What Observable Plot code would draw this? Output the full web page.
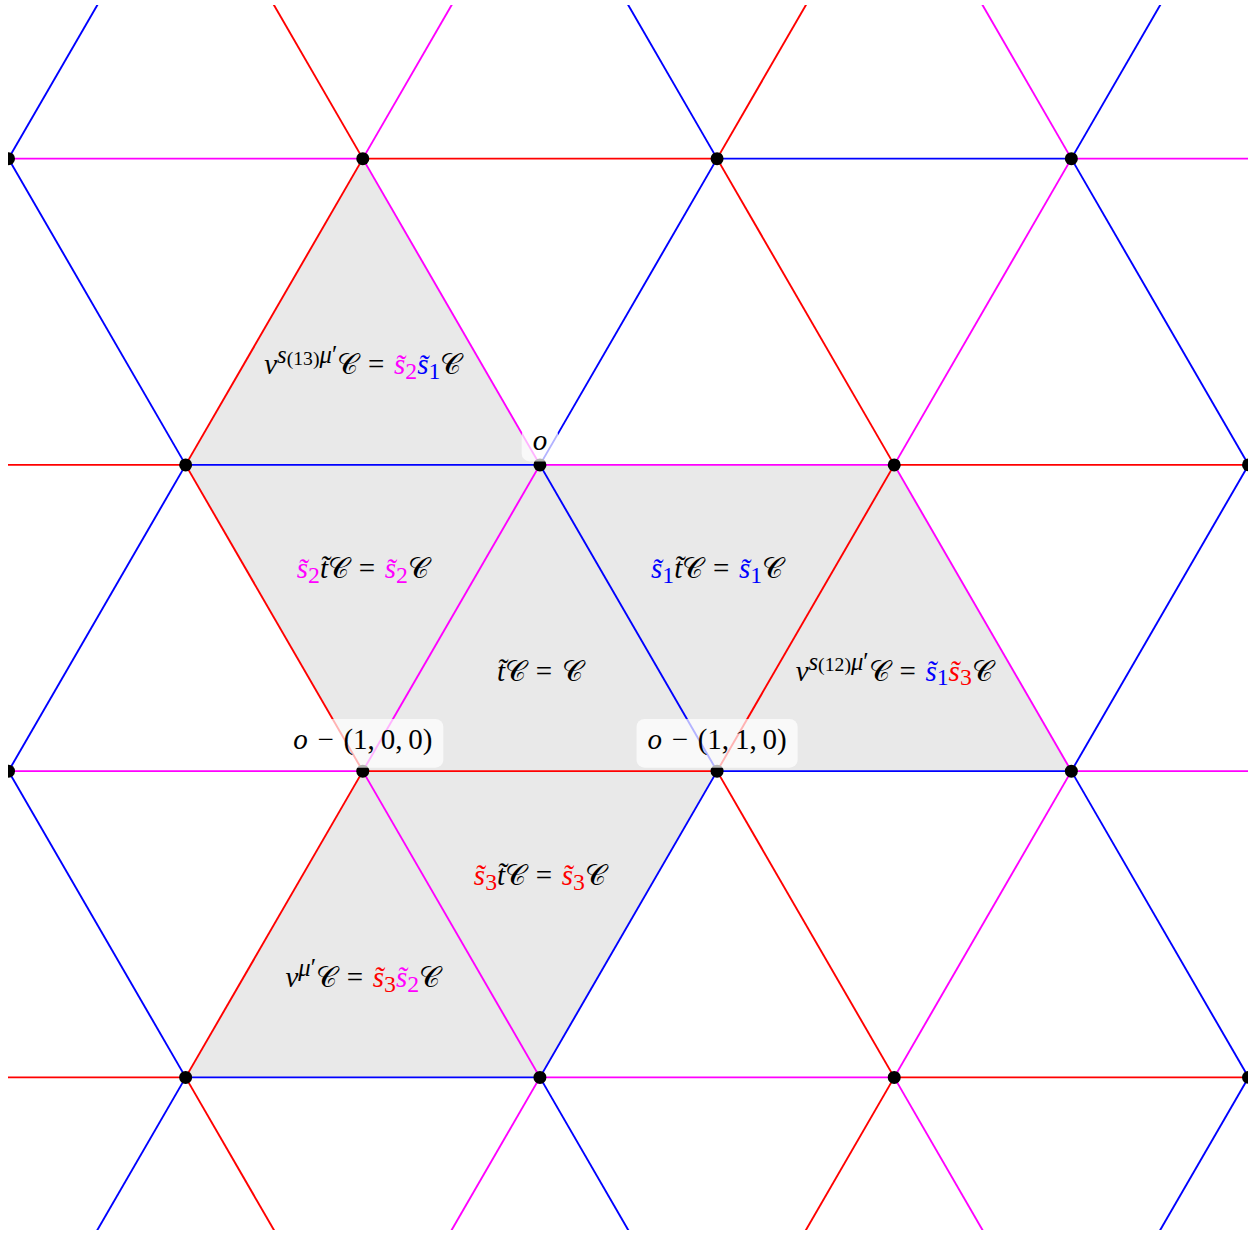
<!DOCTYPE html>
<html>
<head>
<meta charset="utf-8">
<script src="https://cdn.jsdelivr.net/npm/d3@7"></script>
<script src="https://cdn.jsdelivr.net/npm/@observablehq/plot@0.6"></script>
<style>
  html, body { margin: 0; padding: 0; background: #fff; }
  #chart svg { display: block; }
  #chart text { white-space: pre; }
</style>
</head>
<body>
<div id="chart"></div>
<script>
// ---------------- data ----------------
const H = Math.sqrt(3) / 2;                 // height of a unit equilateral triangle
const xExtent = [-1.5, 2];                  // visible window (lattice units)
const yExtent = [-2.5 * H, 1.5 * H];
const rows = d3.range(-4, 4);               // lattice row index j
const cols = d3.range(-6, 7);               // lattice column index i
const wallColors = ["#ff0000", "#0000ff", "#ff00ff"];   // wall types 0, 1, 2

// shaded alcoves, as lattice vertex indices [i, j]
const shadedTriangles = [
  [[-1, 0], [-1, 1], [0, 0]],
  [[-1, 0], [0, 0], [0, -1]],
  [[0, 0], [0, -1], [1, -1]],
  [[0, 0], [1, 0], [1, -1]],
  [[1, 0], [1, -1], [2, -1]],
  [[0, -1], [1, -1], [1, -2]],
  [[0, -1], [0, -2], [1, -2]]
];

const K = "#000000", R = "#ff0000", B = "#0000ff", M = "#ff00ff";
const CAL = "\u{1D49E}";
const EQ = "\u2004=\u2004";
// token: [text, color, level(0 base,1 sup,2 sub,3 sup-sub), italic]
const I = (t, c = K) => [t, c, 0, true];
const N = (t, c = K) => [t, c, 0, false];
const SUP = (t, it = true) => [t, K, 1, it];
const SS = (t) => [t, K, 3, false];
const SUB = (t, c) => [t, c, 2, false];
const st = (n, c) => [I("s\u0303", c), SUB(n, c)];
const tt = I("t\u0303");

// one label per shaded triangle (same order)
const regionLabelTokens = [
  [I("v"), SUP("s"), SS("(13)"), SUP("\u03bc"), SUP("\u2032", false), N(CAL), N(EQ), ...st("2", M), ...st("1", B), N(CAL)],
  [...st("2", M), tt, N(CAL), N(EQ), ...st("2", M), N(CAL)],
  [tt, N(CAL), N(EQ), N(CAL)],
  [...st("1", B), tt, N(CAL), N(EQ), ...st("1", B), N(CAL)],
  [I("v"), SUP("s"), SS("(12)"), SUP("\u03bc"), SUP("\u2032", false), N(CAL), N(EQ), ...st("1", B), ...st("3", R), N(CAL)],
  [...st("3", R), tt, N(CAL), N(EQ), ...st("3", R), N(CAL)],
  [I("v"), SUP("\u03bc"), SUP("\u2032", false), N(CAL), N(EQ), ...st("3", R), ...st("2", M), N(CAL)]
];

const vertexLabelAt = [[0, 0], [0, -1], [1, -1]];
const vertexLabelTokens = [
  [I("o")],
  [I("o"), N("\u2004\u2212\u2004(1,\u20090,\u20090)")],
  [I("o"), N("\u2004\u2212\u2004(1,\u20091,\u20090)")]
];

// ---------------- geometry from lattice indices ----------------
const pos = ([i, j]) => ({x: i + j / 2, y: j * H});
const type = ([i, j]) => (((i - j) % 3) + 3) % 3;

const vertices = [];
for (const j of rows) for (const i of cols) vertices.push({i, j, ...pos([i, j])});

const edges = [];
for (const {i, j} of vertices) {
  for (const nb of [[i + 1, j], [i, j + 1], [i - 1, j + 1]]) {
    const a = pos([i, j]), b = pos(nb);
    const missing = ((-(type([i, j]) + type(nb))) % 3 + 3) % 3;
    edges.push({x1: a.x, y1: a.y, x2: b.x, y2: b.y, color: wallColors[missing]});
  }
}

const triPoints = shadedTriangles.flatMap((tri, k) =>
  [...tri, tri[0]].map((v) => ({tri: k, ...pos(v)})));

const regionLabels = shadedTriangles.map((tri, k) => {
  const p = tri.map(pos);
  return {x: d3.mean(p, (d) => d.x), y: d3.mean(p, (d) => d.y),
          plain: regionLabelTokens[k].map((t) => t[0]).join("")};
});
const vertexLabels = vertexLabelAt.map((v, k) => ({...pos(v), plain: vertexLabelTokens[k].map((t) => t[0]).join("")}));

// ---------------- chart ----------------
const FS = 29;
const FONT = "'Liberation Serif', 'DejaVu Serif', serif";

const svg = Plot.plot({
  width: 1256,
  height: 1235,
  marginLeft: 8, marginRight: 8, marginTop: 5, marginBottom: 5,
  x: {domain: xExtent, axis: null},
  y: {domain: yExtent, axis: null},
  color: {type: "identity"},
  marks: [
    Plot.line(triPoints, {x: "x", y: "y", z: "tri", fill: "#e9e9e9", stroke: "none", clip: true}),
    Plot.link(edges, {x1: "x1", y1: "y1", x2: "x2", y2: "y2", stroke: "color", strokeWidth: 1.9, clip: true}),
    Plot.dot(vertices, {x: "x", y: "y", r: 6.5, fill: "black", clip: true}),
    Plot.text(regionLabels, {x: "x", y: "y", text: "plain", fontSize: FS, fontFamily: FONT,
      lineAnchor: "bottom", dy: 11.5, fill: "black"}),
    Plot.text(vertexLabels, {x: "x", y: "y", text: "plain", fontSize: FS, fontFamily: FONT,
      lineAnchor: "bottom", fill: "black"})
  ]
});
document.getElementById("chart").append(svg);

// ---------------- rich math text (tspans) ----------------
const SVGNS = "http://www.w3.org/2000/svg";
const LEVELS = [
  {shift: 0, scale: 1},
  {shift: -0.38, scale: 0.85},
  {shift: 0.17, scale: 0.82},
  {shift: -0.33, scale: 0.68}
];
function fillTokens(el, tokens) {
  while (el.firstChild) el.removeChild(el.firstChild);
  let cur = 0;
  for (const [t, c, lv, it] of tokens) {
    const L = LEVELS[lv];
    const ts = document.createElementNS(SVGNS, "tspan");
    const target = L.shift * FS;
    if (target !== cur) ts.setAttribute("dy", (target - cur).toFixed(2));
    cur = target;
    ts.setAttribute("font-size", (L.scale * FS).toFixed(2));
    ts.setAttribute("fill", c);
    ts.setAttribute("font-style", it ? "italic" : "normal");
    ts.textContent = t;
    el.appendChild(ts);
  }
}

const textGroups = svg.querySelectorAll('g[aria-label="text"]');
const regionGroup = textGroups[0], vertexGroup = textGroups[1];

regionGroup.querySelectorAll("text").forEach((el, k) => fillTokens(el, regionLabelTokens[k]));

const PAD = 11, GAP = 14.5;
vertexGroup.querySelectorAll("text").forEach((el, k) => {
  fillTokens(el, vertexLabelTokens[k]);
  const tall = /[()0-9]/.test(vertexLabels[k].plain);
  const inkTop = (tall ? 0.66 : 0.4) * FS;
  const inkBottom = (tall ? 0.26 : 0) * FS;
  const base = -(GAP + inkBottom);
  el.setAttribute("y", base);
  const bb = el.getBBox();
  const rect = document.createElementNS(SVGNS, "rect");
  rect.setAttribute("x", bb.x - PAD);
  rect.setAttribute("width", bb.width + 2 * PAD);
  rect.setAttribute("y", base - inkTop - PAD);
  rect.setAttribute("height", inkTop + inkBottom + 2 * PAD);
  rect.setAttribute("rx", 8);
  rect.setAttribute("fill", "#ffffff");
  rect.setAttribute("fill-opacity", 0.7);
  rect.setAttribute("stroke", "none");
  rect.setAttribute("transform", el.getAttribute("transform"));
  el.parentNode.insertBefore(rect, el);
});
</script>
</body>
</html>
